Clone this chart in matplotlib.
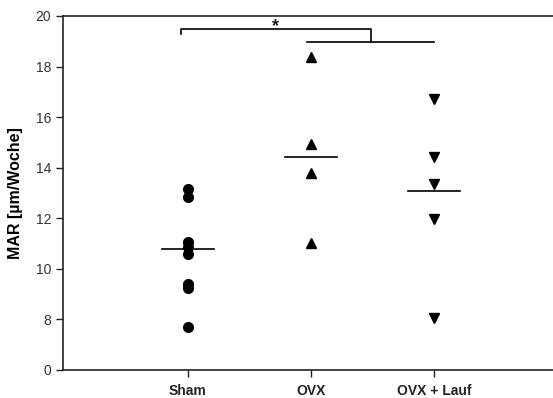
import matplotlib
matplotlib.use("Agg")
import matplotlib.pyplot as plt

plt.rcParams["font.family"] = ["Liberation Sans", "DejaVu Sans"]

# Data
groups = ["Sham", "OVX", "OVX + Lauf"]
sham = [13.16, 12.85, 11.07, 10.87, 10.59, 9.41, 9.25, 7.71]
ovx = [18.38, 14.94, 13.79, 11.03]
ovx_lauf = [16.72, 14.43, 13.36, 11.98, 8.06]
center_lines = [10.79, 14.43, 13.08]

# y axis is broken: the lowest tick is labelled 0
ytick_pos = [6, 8, 10, 12, 14, 16, 18, 20]
ytick_labels = ["0", "8", "10", "12", "14", "16", "18", "20"]

fig = plt.figure(figsize=(5.53, 3.98), dpi=100)
ax = fig.add_axes([0.114, 0.0704, 0.886, 0.8894])

ax.plot([1] * len(sham), sham, "o", color="black", markersize=7)
ax.plot([2] * len(ovx), ovx, "^", color="black", markersize=7)
ax.plot([3] * len(ovx_lauf), ovx_lauf, "v", color="black", markersize=7)

for i, v in enumerate(center_lines):
    ax.plot([i + 1 - 0.21, i + 1 + 0.21], [v, v], color="black", lw=1.2)

# significance brackets
ax.plot([0.94, 0.94, 2.49, 2.49], [19.29, 19.49, 19.49, 18.97], color="black", lw=1.2)
ax.plot([1.97, 3.0], [18.97, 18.97], color="black", lw=1.2)
ax.text(1.71, 19.6, "*", ha="center", va="center", fontsize=13, fontweight="bold", color="#222222")

ax.set_xlim(-0.016, 3.97)
ax.set_ylim(6, 20)
ax.set_xticks([1, 2, 3])
ax.set_xticklabels(groups, fontweight="bold", fontsize=10, color="#222222")
ax.set_yticks(ytick_pos)
ax.set_yticklabels(ytick_labels, fontsize=10, color="#333333")
ax.tick_params(direction="out", length=5, width=1, color="#222222")
ax.tick_params(axis="x", pad=5)

ax.set_ylabel("MAR [µm/Woche]", fontweight="bold", fontsize=11.5, labelpad=9)
ax.spines["right"].set_visible(False)
for s in ["left", "bottom", "top"]:
    ax.spines[s].set_linewidth(1.2)
    ax.spines[s].set_color("#222222")

fig.savefig("out.png", dpi=100)
